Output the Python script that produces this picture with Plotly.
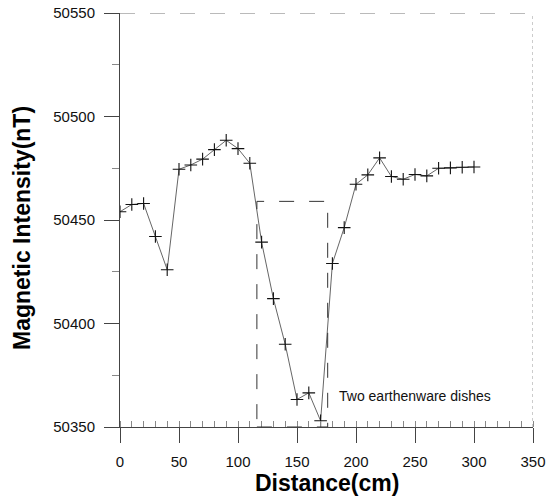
import plotly.graph_objects as go

# Data
distance_cm = [0, 10, 20, 30, 40, 50, 60, 70, 80, 90, 100, 110, 120, 130, 140, 150,
               160, 170, 180, 190, 200, 210, 220, 230, 240, 250, 260, 270, 280, 290, 300]
intensity_nT = [50454, 50457.5, 50458, 50442, 50426, 50474.5, 50476.6, 50479.4, 50484,
                50488.5, 50484.5, 50477.4, 50439.3, 50412, 50390, 50363.3, 50366.5,
                50353, 50429, 50446.3, 50467.3, 50471.8, 50480, 50471, 50469.7, 50472,
                50471.3, 50475, 50475.2, 50475.5, 50475.6]

x_ticks = [0, 50, 100, 150, 200, 250, 300, 350]
y_ticks = [50350, 50400, 50450, 50500, 50550]
y_tick_text = ["50350", "50400", "50450", "50500", "50550"]
x_range = [0, 350]
y_range = [50350, 50550]

dish_x = [116, 176]       # dish zone left/right (cm)
dish_top = 50459          # top of the dish marker box (nT)
dish_label = "Two earthenware dishes"
dish_label_pos = [184, 50365]

font_family = "Liberation Sans, Arial, sans-serif"

fig = go.Figure()
fig.add_trace(go.Scatter(
    x=distance_cm, y=intensity_nT, mode="lines+markers",
    line=dict(color="#666666", width=1),
    marker=dict(symbol="cross-thin", size=9, line=dict(color="#111111", width=1.1)),
    showlegend=False,
))

# dish box
fig.add_shape(type="rect", xref="x", yref="y",
              x0=dish_x[0], x1=dish_x[1], y0=y_range[0], y1=dish_top,
              line=dict(color="#333333", width=1, dash="longdash"))
# top and right frame (broken in the scan)
fig.add_shape(type="line", xref="x", yref="y", x0=x_range[0], x1=x_range[1],
              y0=y_range[1], y1=y_range[1], line=dict(color="#777777", width=1, dash="longdash"))
fig.add_shape(type="line", xref="x", yref="y", x0=x_range[1], x1=x_range[1],
              y0=y_range[0], y1=y_range[1], line=dict(color="#999999", width=1, dash="dot"))

fig.add_annotation(x=dish_label_pos[0], y=dish_label_pos[1], xref="x", yref="y",
                   text=dish_label, showarrow=False, xanchor="left", yanchor="middle",
                   font=dict(family=font_family, size=14, color="#111111"))

plot_l, plot_r, plot_t, plot_b = 120, 533, 13, 427
pw, ph = plot_r - plot_l, plot_b - plot_t

# axis titles
fig.add_annotation(x=0.5, y=-(483 - plot_b) / ph, xref="paper", yref="paper",
                   text="<b>Distance(cm)</b>", xanchor="center", yanchor="middle",
                   showarrow=False, font=dict(family=font_family, size=23, color="#000000"))
fig.add_annotation(text="<b>Magnetic Intensity(nT)</b>", textangle=-90, showarrow=False,
                   xref="paper", yref="paper", x=-(plot_l - 22) / pw, xanchor="center",
                   y=(plot_b - 228) / ph, yanchor="middle",
                   font=dict(family=font_family, size=23, color="#000000"))

fig.update_layout(
    width=548, height=498,
    margin=dict(l=plot_l, r=548 - plot_r, t=plot_t, b=498 - plot_b, autoexpand=False),
    paper_bgcolor="white", plot_bgcolor="white",
    font=dict(family=font_family, size=15, color="#111111"),
)
fig.update_xaxes(range=x_range, tickvals=x_ticks, showgrid=False, zeroline=False,
                 showline=True, linecolor="#444444", linewidth=1, automargin=False,
                 ticks="outside", ticklen=15, tickcolor="#444444",
                 ticklabelstandoff=6,
                 minor=dict(ticks="inside", ticklen=6, dtick=10, tickcolor="#888888"))
fig.update_yaxes(range=y_range, tickvals=y_ticks, ticktext=y_tick_text, showgrid=False,
                 zeroline=False, automargin=False,
                 showline=True, linecolor="#444444", linewidth=1,
                 ticks="outside", ticklen=15, tickcolor="#444444",
                 ticklabelstandoff=6,
                 minor=dict(ticks="outside", ticklen=7, dtick=25, tickcolor="#888888"))

fig.write_html("out.html", config={"displayModeBar": False},
               post_script="document.body.style.margin='0';document.body.style.overflow='hidden';")
